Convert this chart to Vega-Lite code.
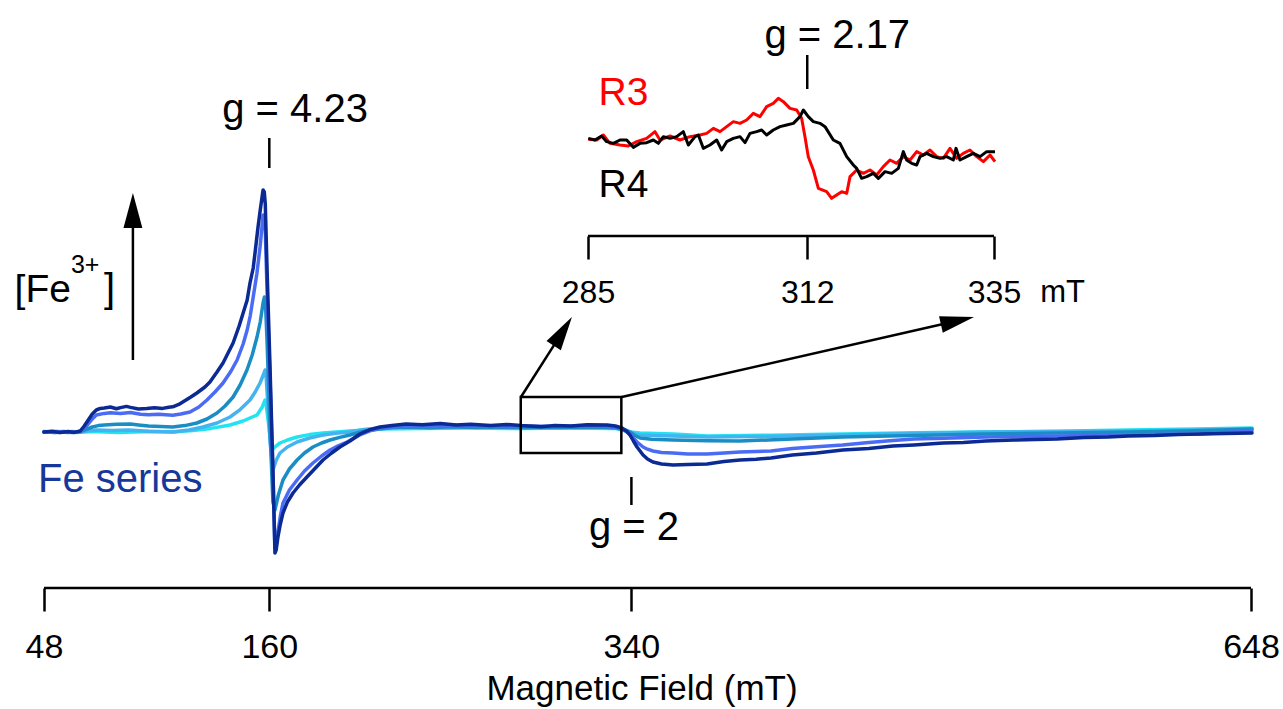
{
  "$schema": "https://vega.github.io/schema/vega-lite/v6.json",
  "width": 1283,
  "height": 709,
  "autosize": {"type": "fit", "contains": "padding"},
  "padding": 0,
  "background": "white",
  "config": {"view": {"stroke": null}, "font": "Liberation Sans"},
  "datasets": {
    "spectra": [
      {"sample":"Fe-1","B":48,"I":0},{"sample":"Fe-1","B":56,"I":0.3},{"sample":"Fe-1","B":64,"I":-0.3},{"sample":"Fe-1","B":72,"I":0.2},{"sample":"Fe-1","B":85,"I":-0.2},{"sample":"Fe-1","B":100,"I":0.3},{"sample":"Fe-1","B":112,"I":0},{"sample":"Fe-1","B":122,"I":0.8},{"sample":"Fe-1","B":131,"I":1.8},{"sample":"Fe-1","B":140.5,"I":3.5},{"sample":"Fe-1","B":147,"I":5.5},{"sample":"Fe-1","B":153.9,"I":8.5},{"sample":"Fe-1","B":156.5,"I":12.5},{"sample":"Fe-1","B":157.9,"I":16},{"sample":"Fe-1","B":158.4,"I":14},{"sample":"Fe-1","B":158.9,"I":10},{"sample":"Fe-1","B":160.4,"I":-2},{"sample":"Fe-1","B":161.3,"I":-9},{"sample":"Fe-1","B":163,"I":-7.3},{"sample":"Fe-1","B":165.3,"I":-5.5},{"sample":"Fe-1","B":169,"I":-4},{"sample":"Fe-1","B":173.8,"I":-2.5},{"sample":"Fe-1","B":180,"I":-1.3},{"sample":"Fe-1","B":186.7,"I":-0.5},{"sample":"Fe-1","B":200,"I":0.5},{"sample":"Fe-1","B":215,"I":1.5},{"sample":"Fe-1","B":235,"I":1.8},{"sample":"Fe-1","B":260,"I":2},{"sample":"Fe-1","B":285,"I":1.7},{"sample":"Fe-1","B":310,"I":2},{"sample":"Fe-1","B":332,"I":1.8},{"sample":"Fe-1","B":335.3,"I":1},{"sample":"Fe-1","B":339.3,"I":0},{"sample":"Fe-1","B":344.3,"I":-0.5},{"sample":"Fe-1","B":360.7,"I":-1},{"sample":"Fe-1","B":378,"I":-2},{"sample":"Fe-1","B":410,"I":-1.6},{"sample":"Fe-1","B":445,"I":-1},{"sample":"Fe-1","B":480,"I":-0.4},{"sample":"Fe-1","B":516,"I":0},{"sample":"Fe-1","B":551.6,"I":0.4},{"sample":"Fe-1","B":587,"I":1},{"sample":"Fe-1","B":620,"I":1.5},{"sample":"Fe-1","B":648.5,"I":2},

      {"sample":"Fe-2","B":48,"I":0},{"sample":"Fe-2","B":55,"I":-0.3},{"sample":"Fe-2","B":62,"I":0.3},{"sample":"Fe-2","B":66,"I":0},{"sample":"Fe-2","B":70,"I":0.6},{"sample":"Fe-2","B":74.4,"I":1},{"sample":"Fe-2","B":82,"I":0.7},{"sample":"Fe-2","B":90,"I":1},{"sample":"Fe-2","B":100,"I":0.4},{"sample":"Fe-2","B":112,"I":0},{"sample":"Fe-2","B":120,"I":1},{"sample":"Fe-2","B":127,"I":2.5},{"sample":"Fe-2","B":134,"I":4.5},{"sample":"Fe-2","B":140.5,"I":7.5},{"sample":"Fe-2","B":145,"I":10.8},{"sample":"Fe-2","B":150.4,"I":16},{"sample":"Fe-2","B":153,"I":20},{"sample":"Fe-2","B":155.4,"I":24.5},{"sample":"Fe-2","B":157,"I":28.5},{"sample":"Fe-2","B":157.9,"I":31},{"sample":"Fe-2","B":158.4,"I":28},{"sample":"Fe-2","B":158.9,"I":20},{"sample":"Fe-2","B":160.4,"I":-5},{"sample":"Fe-2","B":161.8,"I":-19},{"sample":"Fe-2","B":163.5,"I":-14},{"sample":"Fe-2","B":165.3,"I":-10.5},{"sample":"Fe-2","B":169,"I":-7.5},{"sample":"Fe-2","B":173.8,"I":-5},{"sample":"Fe-2","B":180,"I":-3},{"sample":"Fe-2","B":186.7,"I":-1.5},{"sample":"Fe-2","B":193,"I":-0.6},{"sample":"Fe-2","B":200,"I":0},{"sample":"Fe-2","B":207,"I":1.2},{"sample":"Fe-2","B":215,"I":2},{"sample":"Fe-2","B":228,"I":2.4},{"sample":"Fe-2","B":245,"I":2.2},{"sample":"Fe-2","B":262,"I":2.5},{"sample":"Fe-2","B":280,"I":2.1},{"sample":"Fe-2","B":300,"I":2.4},{"sample":"Fe-2","B":318,"I":2.2},{"sample":"Fe-2","B":332,"I":2},{"sample":"Fe-2","B":335.3,"I":1.5},{"sample":"Fe-2","B":339.3,"I":0},{"sample":"Fe-2","B":342,"I":-1},{"sample":"Fe-2","B":344.3,"I":-1.5},{"sample":"Fe-2","B":352,"I":-1.8},{"sample":"Fe-2","B":360.7,"I":-2},{"sample":"Fe-2","B":378,"I":-2.5},{"sample":"Fe-2","B":400,"I":-2.3},{"sample":"Fe-2","B":445,"I":-1.5},{"sample":"Fe-2","B":480,"I":-0.7},{"sample":"Fe-2","B":516,"I":0},{"sample":"Fe-2","B":551.6,"I":0.3},{"sample":"Fe-2","B":587,"I":0.5},{"sample":"Fe-2","B":620,"I":1},{"sample":"Fe-2","B":648.5,"I":1.5},

      {"sample":"Fe-3","B":48,"I":0},{"sample":"Fe-3","B":54,"I":0.3},{"sample":"Fe-3","B":60,"I":-0.3},{"sample":"Fe-3","B":66,"I":0.2},{"sample":"Fe-3","B":69,"I":1.3},{"sample":"Fe-3","B":72,"I":2.5},{"sample":"Fe-3","B":75,"I":3.2},{"sample":"Fe-3","B":78,"I":3.5},{"sample":"Fe-3","B":84,"I":3.9},{"sample":"Fe-3","B":91,"I":4},{"sample":"Fe-3","B":96,"I":3.4},{"sample":"Fe-3","B":100,"I":3},{"sample":"Fe-3","B":106,"I":2.7},{"sample":"Fe-3","B":112,"I":2.5},{"sample":"Fe-3","B":118,"I":3.2},{"sample":"Fe-3","B":124,"I":4.5},{"sample":"Fe-3","B":129,"I":6.5},{"sample":"Fe-3","B":134,"I":9.5},{"sample":"Fe-3","B":138,"I":13},{"sample":"Fe-3","B":142,"I":17.5},{"sample":"Fe-3","B":145.5,"I":23.5},{"sample":"Fe-3","B":148.9,"I":31},{"sample":"Fe-3","B":151.5,"I":38.5},{"sample":"Fe-3","B":153.9,"I":47.5},{"sample":"Fe-3","B":155.5,"I":55},{"sample":"Fe-3","B":156.9,"I":64.5},{"sample":"Fe-3","B":157.6,"I":67.5},{"sample":"Fe-3","B":158.2,"I":62},{"sample":"Fe-3","B":158.9,"I":45},{"sample":"Fe-3","B":160.4,"I":0},{"sample":"Fe-3","B":161.8,"I":-35},{"sample":"Fe-3","B":162.8,"I":-39},{"sample":"Fe-3","B":164.5,"I":-31.5},{"sample":"Fe-3","B":166.8,"I":-24},{"sample":"Fe-3","B":170,"I":-18.5},{"sample":"Fe-3","B":173.8,"I":-14},{"sample":"Fe-3","B":177.5,"I":-10.5},{"sample":"Fe-3","B":181.7,"I":-7.5},{"sample":"Fe-3","B":186,"I":-5.5},{"sample":"Fe-3","B":190.2,"I":-4},{"sample":"Fe-3","B":195,"I":-2.7},{"sample":"Fe-3","B":200,"I":-1.5},{"sample":"Fe-3","B":207,"I":0.4},{"sample":"Fe-3","B":215,"I":1.5},{"sample":"Fe-3","B":221,"I":2.2},{"sample":"Fe-3","B":228,"I":2.5},{"sample":"Fe-3","B":240,"I":2.1},{"sample":"Fe-3","B":250,"I":2.6},{"sample":"Fe-3","B":262,"I":2.2},{"sample":"Fe-3","B":275,"I":2.5},{"sample":"Fe-3","B":288,"I":2.1},{"sample":"Fe-3","B":300,"I":2.4},{"sample":"Fe-3","B":312,"I":2.2},{"sample":"Fe-3","B":325,"I":2.5},{"sample":"Fe-3","B":332,"I":2},{"sample":"Fe-3","B":335.3,"I":1.5},{"sample":"Fe-3","B":337.5,"I":0.8},{"sample":"Fe-3","B":339.3,"I":0},{"sample":"Fe-3","B":341.5,"I":-1.6},{"sample":"Fe-3","B":344.3,"I":-3},{"sample":"Fe-3","B":350,"I":-3.6},{"sample":"Fe-3","B":360.7,"I":-4},{"sample":"Fe-3","B":377.6,"I":-4.4},{"sample":"Fe-3","B":394,"I":-4.5},{"sample":"Fe-3","B":420,"I":-3.5},{"sample":"Fe-3","B":445,"I":-2.5},{"sample":"Fe-3","B":480,"I":-1.7},{"sample":"Fe-3","B":516,"I":-1},{"sample":"Fe-3","B":551.6,"I":-0.5},{"sample":"Fe-3","B":587,"I":0},{"sample":"Fe-3","B":620,"I":0.6},{"sample":"Fe-3","B":648.5,"I":1.5},

      {"sample":"Fe-4","B":48,"I":0.2},{"sample":"Fe-4","B":53,"I":-0.3},{"sample":"Fe-4","B":58,"I":0.3},{"sample":"Fe-4","B":62,"I":-0.2},{"sample":"Fe-4","B":66,"I":0.2},{"sample":"Fe-4","B":68,"I":2},{"sample":"Fe-4","B":70,"I":4},{"sample":"Fe-4","B":72,"I":6.5},{"sample":"Fe-4","B":74,"I":8.5},{"sample":"Fe-4","B":78,"I":9.3},{"sample":"Fe-4","B":81,"I":9.6},{"sample":"Fe-4","B":86,"I":9.2},{"sample":"Fe-4","B":91,"I":9.7},{"sample":"Fe-4","B":96,"I":8.9},{"sample":"Fe-4","B":100,"I":8.6},{"sample":"Fe-4","B":105,"I":8.9},{"sample":"Fe-4","B":112,"I":8.4},{"sample":"Fe-4","B":116,"I":9},{"sample":"Fe-4","B":120.6,"I":10},{"sample":"Fe-4","B":125,"I":12.5},{"sample":"Fe-4","B":129,"I":16},{"sample":"Fe-4","B":133,"I":20},{"sample":"Fe-4","B":137,"I":24.5},{"sample":"Fe-4","B":141,"I":30.5},{"sample":"Fe-4","B":144,"I":36},{"sample":"Fe-4","B":147,"I":44},{"sample":"Fe-4","B":149,"I":51},{"sample":"Fe-4","B":150.5,"I":58},{"sample":"Fe-4","B":152,"I":67.5},{"sample":"Fe-4","B":153.8,"I":79},{"sample":"Fe-4","B":155.4,"I":92.5},{"sample":"Fe-4","B":156.4,"I":103},{"sample":"Fe-4","B":156.9,"I":108.5},{"sample":"Fe-4","B":157.4,"I":108},{"sample":"Fe-4","B":158,"I":101},{"sample":"Fe-4","B":158.9,"I":70},{"sample":"Fe-4","B":160.4,"I":25},{"sample":"Fe-4","B":161.8,"I":-20},{"sample":"Fe-4","B":162.8,"I":-58},{"sample":"Fe-4","B":163.5,"I":-56},{"sample":"Fe-4","B":164.3,"I":-50},{"sample":"Fe-4","B":165.5,"I":-42},{"sample":"Fe-4","B":166.8,"I":-35.5},{"sample":"Fe-4","B":170,"I":-29},{"sample":"Fe-4","B":173.8,"I":-24},{"sample":"Fe-4","B":177.5,"I":-19.5},{"sample":"Fe-4","B":181.7,"I":-15.5},{"sample":"Fe-4","B":186,"I":-12},{"sample":"Fe-4","B":190.2,"I":-9},{"sample":"Fe-4","B":194,"I":-7},{"sample":"Fe-4","B":198.6,"I":-5},{"sample":"Fe-4","B":205,"I":-1.5},{"sample":"Fe-4","B":210,"I":0.6},{"sample":"Fe-4","B":215,"I":2},{"sample":"Fe-4","B":221,"I":2.6},{"sample":"Fe-4","B":228,"I":3},{"sample":"Fe-4","B":236,"I":3.3},{"sample":"Fe-4","B":245,"I":2.8},{"sample":"Fe-4","B":253,"I":3.4},{"sample":"Fe-4","B":262,"I":2.9},{"sample":"Fe-4","B":270,"I":3.1},{"sample":"Fe-4","B":280,"I":2.6},{"sample":"Fe-4","B":290,"I":3},{"sample":"Fe-4","B":300,"I":2.7},{"sample":"Fe-4","B":310,"I":2.9},{"sample":"Fe-4","B":320,"I":3.2},{"sample":"Fe-4","B":328,"I":2.8},{"sample":"Fe-4","B":333,"I":2.4},{"sample":"Fe-4","B":335.3,"I":1.5},{"sample":"Fe-4","B":337.5,"I":0.3},{"sample":"Fe-4","B":339.3,"I":-1},{"sample":"Fe-4","B":341,"I":-3},{"sample":"Fe-4","B":342.8,"I":-5},{"sample":"Fe-4","B":345.8,"I":-7.5},{"sample":"Fe-4","B":348,"I":-8.6},{"sample":"Fe-4","B":350.7,"I":-9.5},{"sample":"Fe-4","B":355,"I":-10.2},{"sample":"Fe-4","B":360.7,"I":-10.5},{"sample":"Fe-4","B":368,"I":-11},{"sample":"Fe-4","B":377.6,"I":-11},{"sample":"Fe-4","B":386,"I":-10.5},{"sample":"Fe-4","B":394,"I":-10},{"sample":"Fe-4","B":409.4,"I":-9.5},{"sample":"Fe-4","B":420,"I":-8.2},{"sample":"Fe-4","B":432,"I":-7.4},{"sample":"Fe-4","B":445,"I":-6.5},{"sample":"Fe-4","B":458,"I":-5.2},{"sample":"Fe-4","B":470,"I":-4.3},{"sample":"Fe-4","B":480.5,"I":-3.5},{"sample":"Fe-4","B":495,"I":-3.1},{"sample":"Fe-4","B":516,"I":-2.5},{"sample":"Fe-4","B":530,"I":-2.3},{"sample":"Fe-4","B":551.6,"I":-2},{"sample":"Fe-4","B":570,"I":-1.7},{"sample":"Fe-4","B":587,"I":-1.5},{"sample":"Fe-4","B":605,"I":-1.1},{"sample":"Fe-4","B":622.6,"I":-1},{"sample":"Fe-4","B":635,"I":-0.3},{"sample":"Fe-4","B":648.5,"I":0.5},

      {"sample":"Fe-5","B":48,"I":0},{"sample":"Fe-5","B":52,"I":0.4},{"sample":"Fe-5","B":56,"I":-0.3},{"sample":"Fe-5","B":60,"I":0.3},{"sample":"Fe-5","B":63,"I":-0.2},{"sample":"Fe-5","B":66,"I":0.5},{"sample":"Fe-5","B":68,"I":3},{"sample":"Fe-5","B":70,"I":6},{"sample":"Fe-5","B":72,"I":9},{"sample":"Fe-5","B":74,"I":11},{"sample":"Fe-5","B":76,"I":11.8},{"sample":"Fe-5","B":78,"I":12},{"sample":"Fe-5","B":81,"I":12.5},{"sample":"Fe-5","B":84,"I":11.6},{"sample":"Fe-5","B":86,"I":12.2},{"sample":"Fe-5","B":89,"I":12.8},{"sample":"Fe-5","B":91,"I":12.3},{"sample":"Fe-5","B":95,"I":11.5},{"sample":"Fe-5","B":99,"I":11.7},{"sample":"Fe-5","B":103,"I":12.1},{"sample":"Fe-5","B":107,"I":11.8},{"sample":"Fe-5","B":110,"I":12.4},{"sample":"Fe-5","B":112,"I":12.6},{"sample":"Fe-5","B":115,"I":13.8},{"sample":"Fe-5","B":117,"I":15},{"sample":"Fe-5","B":121,"I":17.5},{"sample":"Fe-5","B":124,"I":19.5},{"sample":"Fe-5","B":128,"I":22.5},{"sample":"Fe-5","B":130.5,"I":25},{"sample":"Fe-5","B":134,"I":30},{"sample":"Fe-5","B":137,"I":34.5},{"sample":"Fe-5","B":140,"I":40.5},{"sample":"Fe-5","B":142,"I":44.5},{"sample":"Fe-5","B":145,"I":53},{"sample":"Fe-5","B":147,"I":59.5},{"sample":"Fe-5","B":149,"I":66},{"sample":"Fe-5","B":150.4,"I":74.5},{"sample":"Fe-5","B":152,"I":82},{"sample":"Fe-5","B":152.9,"I":89.5},{"sample":"Fe-5","B":154.4,"I":102.5},{"sample":"Fe-5","B":155.5,"I":111},{"sample":"Fe-5","B":156.4,"I":117.5},{"sample":"Fe-5","B":156.9,"I":121},{"sample":"Fe-5","B":157.5,"I":120},{"sample":"Fe-5","B":158,"I":114},{"sample":"Fe-5","B":158.9,"I":81},{"sample":"Fe-5","B":160.4,"I":31},{"sample":"Fe-5","B":161.8,"I":-19},{"sample":"Fe-5","B":162.8,"I":-60.5},{"sample":"Fe-5","B":163.4,"I":-59},{"sample":"Fe-5","B":164.3,"I":-52.5},{"sample":"Fe-5","B":165.5,"I":-46},{"sample":"Fe-5","B":166.8,"I":-40.5},{"sample":"Fe-5","B":169,"I":-35},{"sample":"Fe-5","B":171.8,"I":-30.5},{"sample":"Fe-5","B":175,"I":-26.5},{"sample":"Fe-5","B":178.7,"I":-22.5},{"sample":"Fe-5","B":182,"I":-19},{"sample":"Fe-5","B":186.7,"I":-14},{"sample":"Fe-5","B":191,"I":-10.5},{"sample":"Fe-5","B":195.1,"I":-7.5},{"sample":"Fe-5","B":200.1,"I":-4.5},{"sample":"Fe-5","B":205,"I":-1},{"sample":"Fe-5","B":210,"I":1.2},{"sample":"Fe-5","B":215,"I":2.5},{"sample":"Fe-5","B":221,"I":3.3},{"sample":"Fe-5","B":228,"I":4},{"sample":"Fe-5","B":236,"I":3.6},{"sample":"Fe-5","B":245,"I":4.2},{"sample":"Fe-5","B":253,"I":3.5},{"sample":"Fe-5","B":260,"I":3.9},{"sample":"Fe-5","B":270,"I":3.2},{"sample":"Fe-5","B":278,"I":3.8},{"sample":"Fe-5","B":285,"I":3.2},{"sample":"Fe-5","B":295,"I":2.6},{"sample":"Fe-5","B":302,"I":3.3},{"sample":"Fe-5","B":310,"I":3},{"sample":"Fe-5","B":318,"I":3.6},{"sample":"Fe-5","B":328,"I":3.5},{"sample":"Fe-5","B":332,"I":3},{"sample":"Fe-5","B":335.3,"I":2},{"sample":"Fe-5","B":337.5,"I":0.5},{"sample":"Fe-5","B":339.3,"I":-1.5},{"sample":"Fe-5","B":341,"I":-4.5},{"sample":"Fe-5","B":342.8,"I":-7.5},{"sample":"Fe-5","B":345.8,"I":-11.5},{"sample":"Fe-5","B":348,"I":-13.5},{"sample":"Fe-5","B":350.7,"I":-15},{"sample":"Fe-5","B":355,"I":-16},{"sample":"Fe-5","B":360.7,"I":-16.5},{"sample":"Fe-5","B":368,"I":-16.2},{"sample":"Fe-5","B":377.6,"I":-16},{"sample":"Fe-5","B":386,"I":-14.8},{"sample":"Fe-5","B":394,"I":-14},{"sample":"Fe-5","B":402,"I":-13.6},{"sample":"Fe-5","B":409.4,"I":-13},{"sample":"Fe-5","B":420,"I":-11.5},{"sample":"Fe-5","B":432,"I":-10.5},{"sample":"Fe-5","B":445,"I":-9},{"sample":"Fe-5","B":458,"I":-8.2},{"sample":"Fe-5","B":470,"I":-7},{"sample":"Fe-5","B":480.5,"I":-6.5},{"sample":"Fe-5","B":495,"I":-5.5},{"sample":"Fe-5","B":505,"I":-5.2},{"sample":"Fe-5","B":516,"I":-4.5},{"sample":"Fe-5","B":530,"I":-4},{"sample":"Fe-5","B":541,"I":-3.8},{"sample":"Fe-5","B":551.6,"I":-3.5},{"sample":"Fe-5","B":565,"I":-2.8},{"sample":"Fe-5","B":577,"I":-2.5},{"sample":"Fe-5","B":587,"I":-2},{"sample":"Fe-5","B":600,"I":-1.8},{"sample":"Fe-5","B":612,"I":-1.2},{"sample":"Fe-5","B":622.6,"I":-1},{"sample":"Fe-5","B":635,"I":-0.8},{"sample":"Fe-5","B":648.5,"I":-0.5}
    ],
    "inset": [
      {"sample":"R3","B":285.04,"I":-0.67},{"sample":"R3","B":286.07,"I":-1},{"sample":"R3","B":286.89,"I":1.5},{"sample":"R3","B":287.71,"I":-2.67},{"sample":"R3","B":288.94,"I":-3.5},{"sample":"R3","B":289.97,"I":-4},{"sample":"R3","B":290.99,"I":-1.83},{"sample":"R3","B":292.22,"I":-0.17},{"sample":"R3","B":293.25,"I":3.17},{"sample":"R3","B":293.87,"I":-1},{"sample":"R3","B":295.1,"I":1},{"sample":"R3","B":296.33,"I":-1},{"sample":"R3","B":297.56,"I":0.67},{"sample":"R3","B":298.79,"I":1.5},{"sample":"R3","B":299.61,"I":2.33},{"sample":"R3","B":300.44,"I":4.83},{"sample":"R3","B":301.26,"I":3.17},{"sample":"R3","B":302.08,"I":5.67},{"sample":"R3","B":302.9,"I":8.17},{"sample":"R3","B":303.72,"I":7.33},{"sample":"R3","B":304.54,"I":9},{"sample":"R3","B":305.36,"I":12.33},{"sample":"R3","B":306.18,"I":10.67},{"sample":"R3","B":307,"I":15.67},{"sample":"R3","B":307.82,"I":17.33},{"sample":"R3","B":308.44,"I":19.83},{"sample":"R3","B":309.06,"I":18.17},{"sample":"R3","B":309.88,"I":14.83},{"sample":"R3","B":310.7,"I":14},{"sample":"R3","B":311.31,"I":9.83},{"sample":"R3","B":311.72,"I":0.67},{"sample":"R3","B":312.13,"I":-9.33},{"sample":"R3","B":312.75,"I":-16},{"sample":"R3","B":313.37,"I":-25.17},{"sample":"R3","B":314.39,"I":-26.83},{"sample":"R3","B":315.01,"I":-30.17},{"sample":"R3","B":315.62,"I":-28.5},{"sample":"R3","B":316.24,"I":-26.83},{"sample":"R3","B":316.86,"I":-27.67},{"sample":"R3","B":317.27,"I":-19.33},{"sample":"R3","B":318.09,"I":-16},{"sample":"R3","B":318.91,"I":-17.67},{"sample":"R3","B":319.73,"I":-16},{"sample":"R3","B":320.55,"I":-18.5},{"sample":"R3","B":321.37,"I":-14.33},{"sample":"R3","B":322.19,"I":-11},{"sample":"R3","B":323.01,"I":-12.67},{"sample":"R3","B":323.83,"I":-9.33},{"sample":"R3","B":324.66,"I":-11},{"sample":"R3","B":325.48,"I":-6.83},{"sample":"R3","B":326.3,"I":-8.5},{"sample":"R3","B":327.12,"I":-6},{"sample":"R3","B":327.94,"I":-9.33},{"sample":"R3","B":328.76,"I":-10.17},{"sample":"R3","B":329.58,"I":-5.17},{"sample":"R3","B":330.4,"I":-10.17},{"sample":"R3","B":331.22,"I":-7.67},{"sample":"R3","B":332.04,"I":-6},{"sample":"R3","B":332.87,"I":-9.33},{"sample":"R3","B":333.69,"I":-11.83},{"sample":"R3","B":334.51,"I":-8.5},{"sample":"R3","B":335.12,"I":-11.83},

      {"sample":"R4","B":285.04,"I":-0.17},{"sample":"R4","B":285.86,"I":-1},{"sample":"R4","B":286.68,"I":1},{"sample":"R4","B":287.3,"I":-1.83},{"sample":"R4","B":288.12,"I":-2.67},{"sample":"R4","B":288.94,"I":-1},{"sample":"R4","B":289.76,"I":-1},{"sample":"R4","B":290.58,"I":-4.67},{"sample":"R4","B":291.4,"I":-2.67},{"sample":"R4","B":292.22,"I":-2.33},{"sample":"R4","B":293.05,"I":-1},{"sample":"R4","B":293.66,"I":-2.67},{"sample":"R4","B":294.28,"I":0.67},{"sample":"R4","B":295.1,"I":-0.17},{"sample":"R4","B":295.92,"I":0.67},{"sample":"R4","B":296.74,"I":3.17},{"sample":"R4","B":297.36,"I":-3.5},{"sample":"R4","B":298.18,"I":0.67},{"sample":"R4","B":298.59,"I":1.5},{"sample":"R4","B":299.2,"I":-5.17},{"sample":"R4","B":300.02,"I":-3.5},{"sample":"R4","B":300.85,"I":-1},{"sample":"R4","B":301.46,"I":-6},{"sample":"R4","B":302.08,"I":-1.83},{"sample":"R4","B":302.9,"I":-0.17},{"sample":"R4","B":303.72,"I":0.67},{"sample":"R4","B":304.34,"I":-2.33},{"sample":"R4","B":304.95,"I":2.33},{"sample":"R4","B":305.77,"I":3.17},{"sample":"R4","B":306.39,"I":4},{"sample":"R4","B":307,"I":1.5},{"sample":"R4","B":307.82,"I":4},{"sample":"R4","B":308.65,"I":5.67},{"sample":"R4","B":309.47,"I":6.5},{"sample":"R4","B":310.29,"I":7.33},{"sample":"R4","B":311.11,"I":10.67},{"sample":"R4","B":311.52,"I":14},{"sample":"R4","B":312.13,"I":10.67},{"sample":"R4","B":312.75,"I":8.17},{"sample":"R4","B":313.57,"I":7.33},{"sample":"R4","B":314.19,"I":5.67},{"sample":"R4","B":315.21,"I":-1},{"sample":"R4","B":316.03,"I":-2.67},{"sample":"R4","B":316.86,"I":-9.33},{"sample":"R4","B":317.68,"I":-13.5},{"sample":"R4","B":318.09,"I":-15.17},{"sample":"R4","B":318.7,"I":-20.17},{"sample":"R4","B":319.32,"I":-19.33},{"sample":"R4","B":320.14,"I":-17.67},{"sample":"R4","B":320.76,"I":-20.17},{"sample":"R4","B":321.58,"I":-16.83},{"sample":"R4","B":322.4,"I":-17.67},{"sample":"R4","B":323.22,"I":-15.17},{"sample":"R4","B":323.83,"I":-6.83},{"sample":"R4","B":324.24,"I":-11},{"sample":"R4","B":324.86,"I":-12.67},{"sample":"R4","B":325.48,"I":-13.5},{"sample":"R4","B":325.89,"I":-9.33},{"sample":"R4","B":326.71,"I":-7.67},{"sample":"R4","B":327.53,"I":-9.33},{"sample":"R4","B":328.35,"I":-10.17},{"sample":"R4","B":329.17,"I":-9.33},{"sample":"R4","B":329.99,"I":-11},{"sample":"R4","B":330.32,"I":-5.17},{"sample":"R4","B":330.81,"I":-11},{"sample":"R4","B":331.63,"I":-9.33},{"sample":"R4","B":332.45,"I":-7.67},{"sample":"R4","B":333.28,"I":-9.33},{"sample":"R4","B":334.1,"I":-6.83},{"sample":"R4","B":335.12,"I":-6.83}
    ]
  },
  "layer": [
    {
      "layer": [
        {
          "data": {"name": "spectra"},
          "mark": {"type": "line", "strokeWidth": 3.5, "strokeJoin": "round", "strokeCap": "round"},
          "encoding": {
            "x": {"field": "B", "type": "quantitative", "scale": {"domain": [26.13, 663.91], "nice": false, "zero": false},
              "axis": {"orient": "bottom", "offset": -121, "values": [48, 160, 340, 648], "domain": false, "grid": false,
                "tickSize": 23, "tickWidth": 2.5, "tickColor": "black", "labelFontSize": 34, "labelFont": "Liberation Sans",
                "labelColor": "black", "labelPadding": 19, "labelFlush": false, "labelOverlap": false,
                "title": "Magnetic Field (mT)", "titleFontSize": 35, "titleFont": "Liberation Sans", "titleFontWeight": "normal",
                "titleColor": "black", "titlePadding": 7}},
            "y": {"field": "I", "type": "quantitative", "scale": {"domain": [-138.5, 216], "nice": false, "zero": false}, "axis": null},
            "color": {"field": "sample", "type": "nominal",
              "scale": {"domain": ["Fe-1", "Fe-2", "Fe-3", "Fe-4", "Fe-5"], "range": ["#22e3f2", "#44b4f0", "#1a8ec4", "#4a6cf5", "#0b2a94"]},
              "legend": null}
          }
        },
        {
          "data": {"values": [
            {"B": 48, "B2": 648, "I": -78, "I2": -78},
            {"B": 160, "B2": 160, "I": 147, "I2": 132},
            {"B": 340, "B2": 340, "I": -22.5, "I2": -36.5},
            {"B": 92.2, "B2": 92.2, "I": 36, "I2": 110},
            {"B": 285.1, "B2": 305.9, "I": 17.5, "I2": 50.35},
            {"B": 335.2, "B2": 502.1, "I": 17.5, "I2": 55.6}
          ]},
          "mark": {"type": "rule", "color": "black", "strokeWidth": 2.5},
          "encoding": {
            "x": {"field": "B", "type": "quantitative", "scale": {"domain": [26.13, 663.91], "nice": false, "zero": false}},
            "x2": {"field": "B2"},
            "y": {"field": "I", "type": "quantitative", "scale": {"domain": [-138.5, 216], "nice": false, "zero": false}},
            "y2": {"field": "I2"}
          }
        },
        {
          "data": {"values": [{"B": 285, "B2": 335, "I": 17.5, "I2": -10.5}]},
          "mark": {"type": "rect", "fillOpacity": 0, "stroke": "black", "strokeWidth": 2.5},
          "encoding": {
            "x": {"field": "B", "type": "quantitative", "scale": {"domain": [26.13, 663.91], "nice": false, "zero": false}},
            "x2": {"field": "B2"},
            "y": {"field": "I", "type": "quantitative", "scale": {"domain": [-138.5, 216], "nice": false, "zero": false}},
            "y2": {"field": "I2"}
          }
        },
        {
          "data": {"values": [{"B": 92.2, "I": 110.75}]},
          "mark": {"type": "point", "shape": "M0,-1L0.54,1L-0.54,1Z", "size": 1225, "filled": true, "color": "black", "opacity": 1, "strokeWidth": 0},
          "encoding": {
            "x": {"field": "B", "type": "quantitative", "scale": {"domain": [26.13, 663.91], "nice": false, "zero": false}},
            "y": {"field": "I", "type": "quantitative", "scale": {"domain": [-138.5, 216], "nice": false, "zero": false}}
          }
        },
        {
          "data": {"values": [{"B": 305.9, "I": 50.35}]},
          "mark": {"type": "point", "shape": "M0,-1L0.5,1L-0.5,1Z", "size": 1156, "angle": 32.5, "filled": true, "color": "black", "opacity": 1, "strokeWidth": 0},
          "encoding": {
            "x": {"field": "B", "type": "quantitative", "scale": {"domain": [26.13, 663.91], "nice": false, "zero": false}},
            "y": {"field": "I", "type": "quantitative", "scale": {"domain": [-138.5, 216], "nice": false, "zero": false}}
          }
        },
        {
          "data": {"values": [{"B": 502.1, "I": 55.6}]},
          "mark": {"type": "point", "shape": "M0,-1L0.5,1L-0.5,1Z", "size": 1156, "angle": 77.2, "filled": true, "color": "black", "opacity": 1, "strokeWidth": 0},
          "encoding": {
            "x": {"field": "B", "type": "quantitative", "scale": {"domain": [26.13, 663.91], "nice": false, "zero": false}},
            "y": {"field": "I", "type": "quantitative", "scale": {"domain": [-138.5, 216], "nice": false, "zero": false}}
          }
        },
        {
          "data": {"values": [{"t": "g = 4.23", "B": 172.8, "I": 155}, {"t": "g = 2", "B": 341.3, "I": -54}]},
          "mark": {"type": "text", "font": "Liberation Sans", "fontSize": 40, "align": "center", "baseline": "alphabetic", "color": "black"},
          "encoding": {
            "x": {"field": "B", "type": "quantitative", "scale": {"domain": [26.13, 663.91], "nice": false, "zero": false}},
            "y": {"field": "I", "type": "quantitative", "scale": {"domain": [-138.5, 216], "nice": false, "zero": false}},
            "text": {"field": "t"}
          }
        },
        {
          "data": {"values": [{"t": "Fe series", "B": 45, "I": -30}]},
          "mark": {"type": "text", "font": "Liberation Sans", "fontSize": 40, "align": "left", "baseline": "alphabetic", "color": "#17389a"},
          "encoding": {
            "x": {"field": "B", "type": "quantitative", "scale": {"domain": [26.13, 663.91], "nice": false, "zero": false}},
            "y": {"field": "I", "type": "quantitative", "scale": {"domain": [-138.5, 216], "nice": false, "zero": false}},
            "text": {"field": "t"}
          }
        },
        {
          "data": {"values": [{"t": "[Fe", "B": 61.4, "I": 65}]},
          "mark": {"type": "text", "font": "Liberation Sans", "fontSize": 39, "align": "right", "baseline": "alphabetic", "color": "black"},
          "encoding": {
            "x": {"field": "B", "type": "quantitative", "scale": {"domain": [26.13, 663.91], "nice": false, "zero": false}},
            "y": {"field": "I", "type": "quantitative", "scale": {"domain": [-138.5, 216], "nice": false, "zero": false}},
            "text": {"field": "t"}
          }
        },
        {
          "data": {"values": [{"t": "3+", "B": 61.4, "I": 79.5}]},
          "mark": {"type": "text", "font": "Liberation Sans", "fontSize": 25, "align": "left", "baseline": "alphabetic", "color": "black"},
          "encoding": {
            "x": {"field": "B", "type": "quantitative", "scale": {"domain": [26.13, 663.91], "nice": false, "zero": false}},
            "y": {"field": "I", "type": "quantitative", "scale": {"domain": [-138.5, 216], "nice": false, "zero": false}},
            "text": {"field": "t"}
          }
        },
        {
          "data": {"values": [{"t": "]", "B": 77.8, "I": 65}]},
          "mark": {"type": "text", "font": "Liberation Sans", "fontSize": 40, "align": "left", "baseline": "alphabetic", "color": "black"},
          "encoding": {
            "x": {"field": "B", "type": "quantitative", "scale": {"domain": [26.13, 663.91], "nice": false, "zero": false}},
            "y": {"field": "I", "type": "quantitative", "scale": {"domain": [-138.5, 216], "nice": false, "zero": false}},
            "text": {"field": "t"}
          }
        }
      ]
    },
    {
      "layer": [
        {
          "data": {"name": "inset"},
          "mark": {"type": "line", "strokeWidth": 3, "strokeJoin": "round"},
          "encoding": {
            "x": {"field": "B", "type": "quantitative", "scale": {"domain": [212.59, 370.59], "nice": false, "zero": false},
              "axis": {"orient": "bottom", "offset": -473, "values": [285, 312, 335], "domain": false, "grid": false,
                "tickSize": 23, "tickWidth": 2.5, "tickColor": "black", "labelFontSize": 32, "labelFont": "Liberation Sans",
                "labelColor": "black", "labelPadding": 18, "labelFlush": false, "labelOverlap": false, "title": null}},
            "y": {"field": "I", "type": "quantitative", "scale": {"domain": [-285.5, 69], "nice": false, "zero": false}, "axis": null},
            "color": {"field": "sample", "type": "nominal", "scale": {"domain": ["R3", "R4"], "range": ["#ff0000", "#000000"]}, "legend": null}
          }
        },
        {
          "data": {"values": [
            {"B": 285, "B2": 335, "I": -49, "I2": -49},
            {"B": 312, "B2": 312, "I": 24.5, "I2": 41.5}
          ]},
          "mark": {"type": "rule", "color": "black", "strokeWidth": 2.5},
          "encoding": {
            "x": {"field": "B", "type": "quantitative", "scale": {"domain": [212.59, 370.59], "nice": false, "zero": false}},
            "x2": {"field": "B2"},
            "y": {"field": "I", "type": "quantitative", "scale": {"domain": [-285.5, 69], "nice": false, "zero": false}},
            "y2": {"field": "I2"}
          }
        },
        {
          "data": {"values": [{"t": "g = 2.17", "B": 315.7, "I": 45}]},
          "mark": {"type": "text", "font": "Liberation Sans", "fontSize": 40, "align": "center", "baseline": "alphabetic", "color": "black"},
          "encoding": {
            "x": {"field": "B", "type": "quantitative", "scale": {"domain": [212.59, 370.59], "nice": false, "zero": false}},
            "y": {"field": "I", "type": "quantitative", "scale": {"domain": [-285.5, 69], "nice": false, "zero": false}},
            "text": {"field": "t"}
          }
        },
        {
          "data": {"values": [{"t": "R3", "B": 286.3, "I": 16.5, "c": "R3"}, {"t": "R4", "B": 286.3, "I": -29.5, "c": "R4"}]},
          "mark": {"type": "text", "font": "Liberation Sans", "fontSize": 39, "align": "left", "baseline": "alphabetic"},
          "encoding": {
            "x": {"field": "B", "type": "quantitative", "scale": {"domain": [212.59, 370.59], "nice": false, "zero": false}},
            "y": {"field": "I", "type": "quantitative", "scale": {"domain": [-285.5, 69], "nice": false, "zero": false}},
            "text": {"field": "t"},
            "color": {"field": "c", "type": "nominal", "scale": {"domain": ["R3", "R4"], "range": ["#ff0000", "#000000"]}, "legend": null}
          }
        },
        {
          "data": {"values": [{"t": "mT", "B": 340.7, "I": -82}]},
          "mark": {"type": "text", "font": "Liberation Sans", "fontSize": 31, "align": "left", "baseline": "alphabetic", "color": "black"},
          "encoding": {
            "x": {"field": "B", "type": "quantitative", "scale": {"domain": [212.59, 370.59], "nice": false, "zero": false}},
            "y": {"field": "I", "type": "quantitative", "scale": {"domain": [-285.5, 69], "nice": false, "zero": false}},
            "text": {"field": "t"}
          }
        }
      ]
    }
  ],
  "resolve": {"scale": {"x": "independent", "y": "independent", "color": "independent"}, "axis": {"x": "independent", "y": "independent"}}
}
